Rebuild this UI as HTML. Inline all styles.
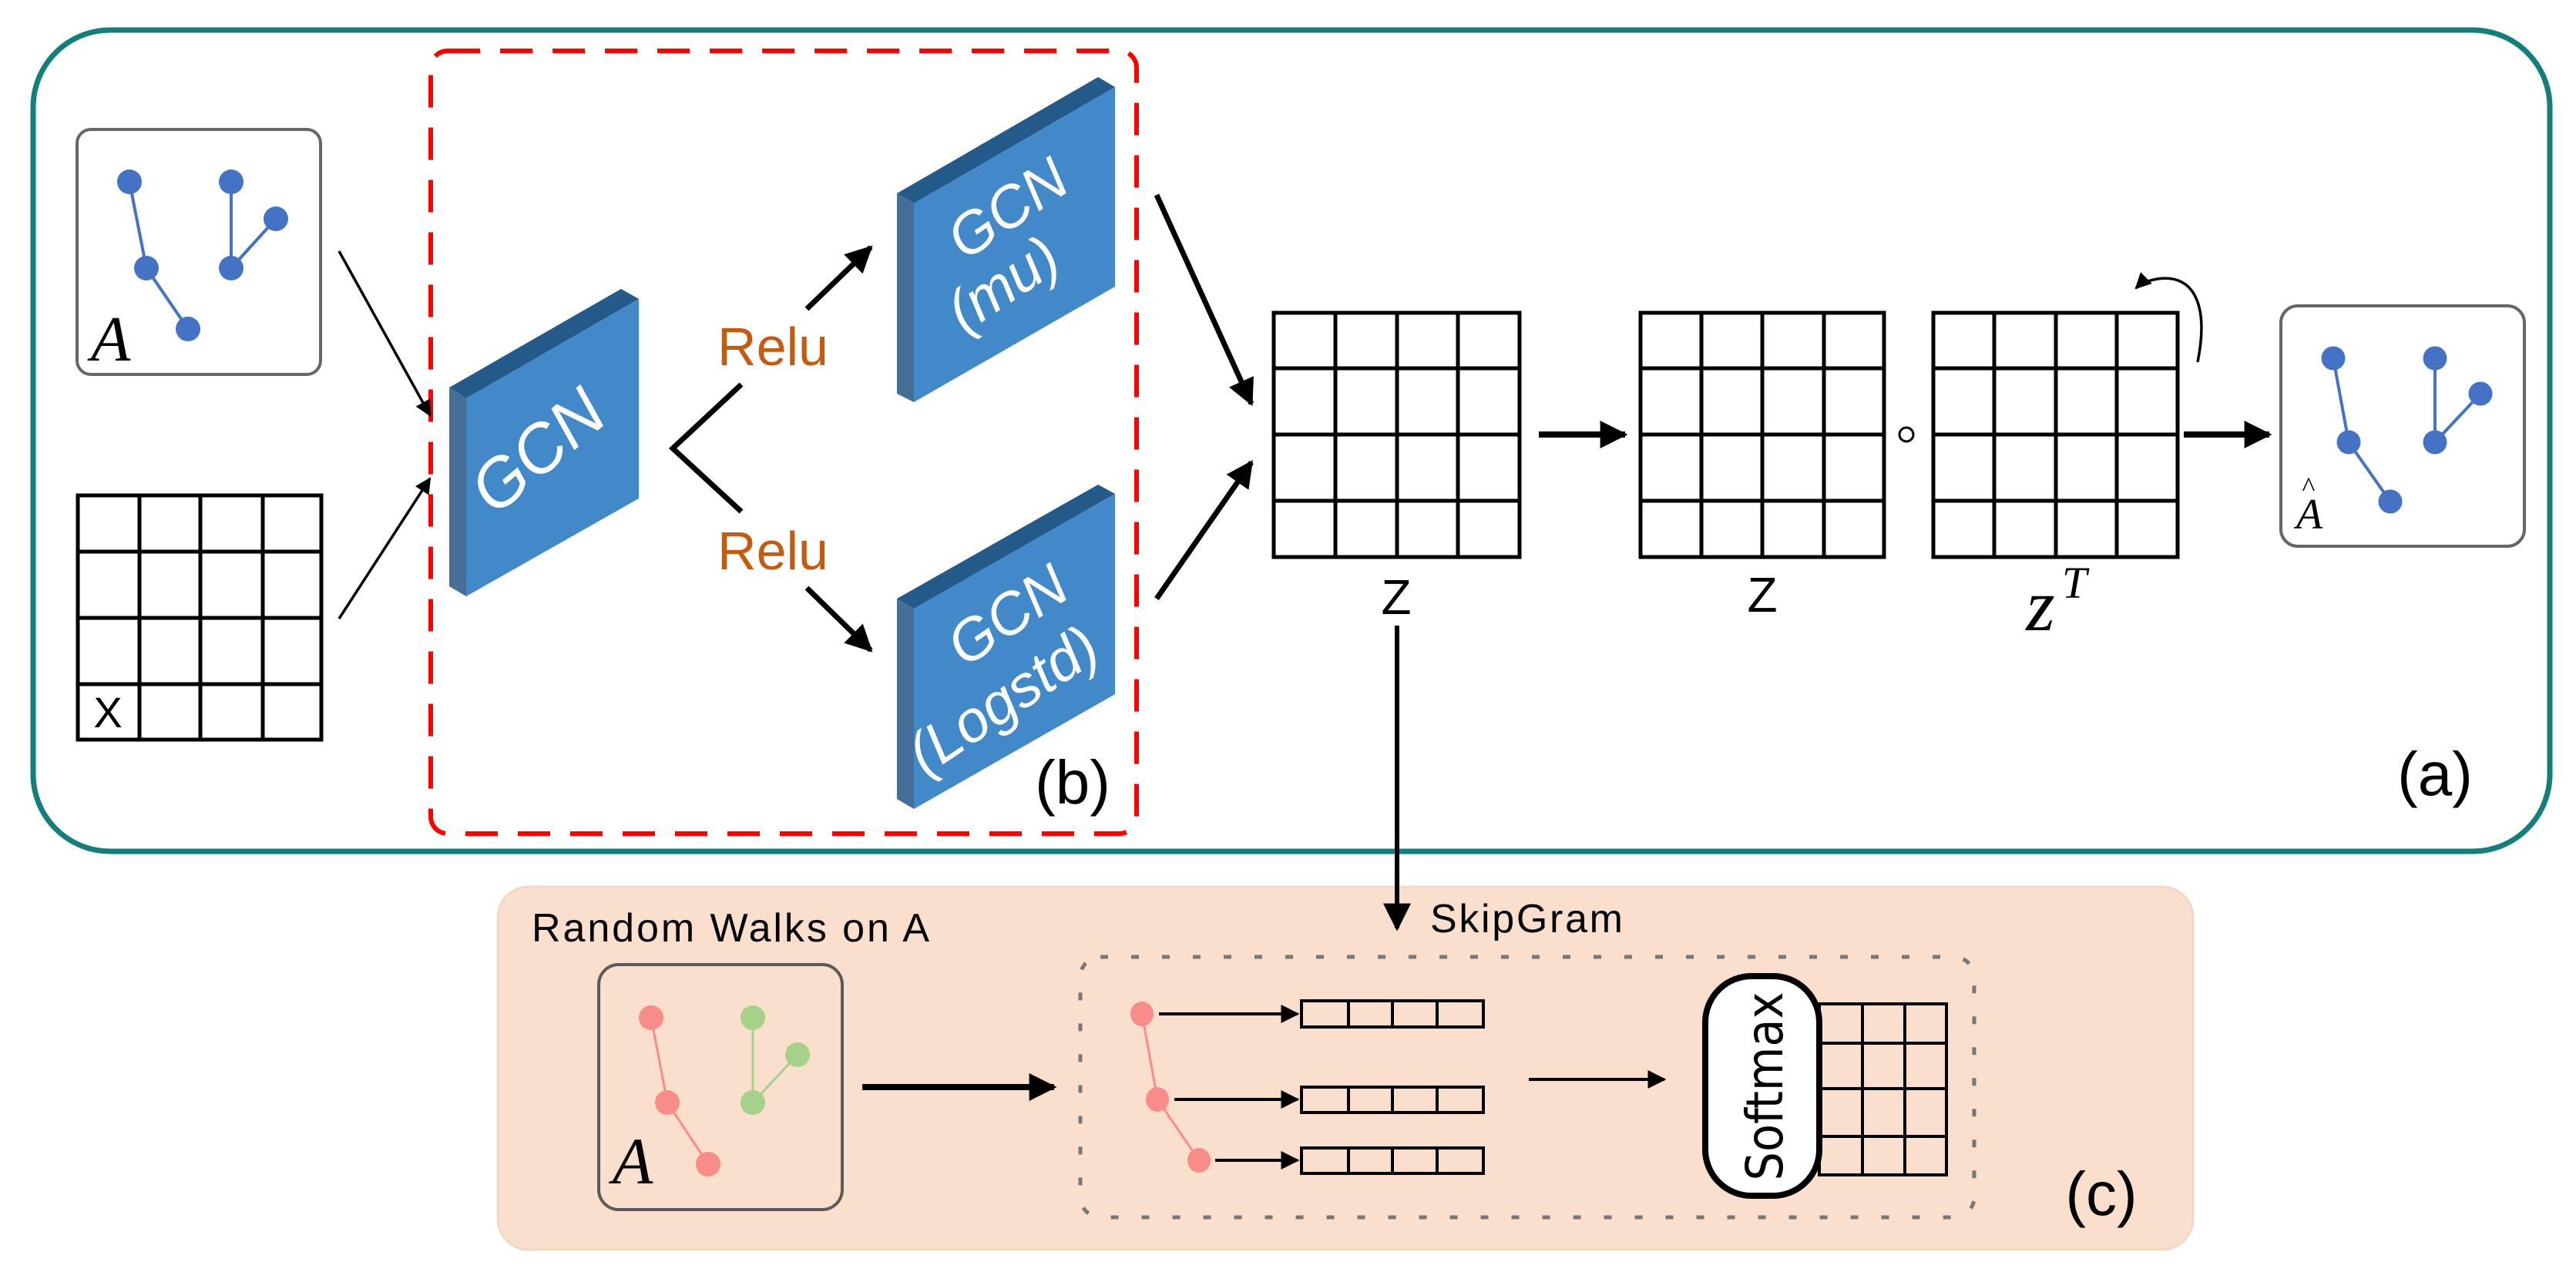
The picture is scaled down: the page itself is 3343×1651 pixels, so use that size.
<!DOCTYPE html>
<html><head><meta charset="utf-8"><style>html,body{margin:0;padding:0;background:#fff}svg{display:block}</style></head>
<body>
<svg width="3343" height="1651" viewBox="0 0 3343 1651" xmlns="http://www.w3.org/2000/svg">
<defs>
<marker id="ah" viewBox="0 0 10 10" refX="9" refY="5" markerWidth="5" markerHeight="5" orient="auto" markerUnits="strokeWidth"><path d="M0,0 L10,5 L0,10 z" fill="#000"/></marker>
<marker id="ah2" viewBox="0 0 10 10" refX="9" refY="5" markerWidth="4.5" markerHeight="4.5" orient="auto" markerUnits="strokeWidth"><path d="M0,0 L10,5 L0,10 z" fill="#000"/></marker>
<marker id="ahs" viewBox="0 0 10 10" refX="9" refY="5" markerWidth="6" markerHeight="6" orient="auto" markerUnits="strokeWidth"><path d="M0,0 L10,5 L0,10 z" fill="#000"/></marker>
</defs>

<rect x="43" y="39" width="3266" height="1066" rx="100" fill="none" stroke="#127f7c" stroke-width="7"/>
<rect x="559" y="66" width="916" height="1016" rx="22" fill="none" stroke="#ff0000" stroke-width="6" stroke-dasharray="42,26"/>

<rect x="100" y="168" width="316" height="318" rx="18" fill="#fff" stroke="#666" stroke-width="4"/>
<g stroke="#4472c4" stroke-width="4">
<line x1="168" y1="236" x2="190" y2="348"/><line x1="190" y1="348" x2="244" y2="427"/>
<line x1="300" y1="236" x2="300" y2="348"/><line x1="300" y1="348" x2="358" y2="284"/>
</g>
<g fill="#4472c4">
<circle cx="168" cy="236" r="16"/><circle cx="190" cy="348" r="16"/><circle cx="244" cy="427" r="16"/>
<circle cx="300" cy="236" r="16"/><circle cx="300" cy="348" r="16"/><circle cx="358" cy="284" r="16"/>
</g>
<text x="118" y="468" font-family="Liberation Serif, serif" font-style="italic" font-size="84">A</text>

<g fill="none" stroke="#000" stroke-width="5">
<rect x="101" y="643" width="316" height="317"/>
<line x1="181" y1="643" x2="181" y2="960"/><line x1="260" y1="643" x2="260" y2="960"/><line x1="341" y1="643" x2="341" y2="960"/>
<line x1="101" y1="716" x2="417" y2="716"/><line x1="101" y1="802" x2="417" y2="802"/><line x1="101" y1="888" x2="417" y2="888"/>
</g>
<text x="140" y="944" text-anchor="middle" font-family="Liberation Sans, sans-serif" font-size="56">X</text>

<line x1="440" y1="326" x2="558" y2="539" stroke="#000" stroke-width="3.5" marker-end="url(#ahs)"/>
<line x1="440" y1="803" x2="558" y2="621" stroke="#000" stroke-width="3.5" marker-end="url(#ahs)"/>

<polygon points="583,503 806,375 829,388 605,517" fill="#245a8a"/>
<polygon points="583,503 605,517 605,774 583,761" fill="#466f97"/>
<polygon points="605,517 829,388 829,647 605,774" fill="#4189c9"/>
<text transform="translate(717,608) rotate(-40)" text-anchor="middle" fill="#fff" font-family="Liberation Sans, sans-serif" font-style="italic" font-size="88">GCN</text>

<polygon points="1164,251 1425,100 1447,113 1186,264" fill="#245a8a"/>
<polygon points="1164,251 1186,264 1186,522 1164,511" fill="#466f97"/>
<polygon points="1186,264 1447,113 1447,372 1186,522" fill="#4189c9"/>
<text transform="translate(1322,292) rotate(-34)" text-anchor="middle" fill="#fff" font-family="Liberation Sans, sans-serif" font-style="italic" font-size="76">GCN</text>
<text transform="translate(1316,390) rotate(-34)" text-anchor="middle" fill="#fff" font-family="Liberation Sans, sans-serif" font-style="italic" font-size="76">(mu)</text>

<polygon points="1164,777 1425,629 1447,641 1186,790" fill="#245a8a"/>
<polygon points="1164,777 1186,790 1186,1050 1164,1037" fill="#466f97"/>
<polygon points="1186,790 1447,641 1447,901 1186,1050" fill="#4189c9"/>
<text transform="translate(1322,820) rotate(-34)" text-anchor="middle" fill="#fff" font-family="Liberation Sans, sans-serif" font-style="italic" font-size="76">GCN</text>
<text transform="translate(1316,930) rotate(-34)" text-anchor="middle" fill="#fff" font-family="Liberation Sans, sans-serif" font-style="italic" font-size="76">(Logstd)</text>

<polyline points="962,499 873,582 962,664" fill="none" stroke="#000" stroke-width="7"/>
<text x="1003" y="474" text-anchor="middle" fill="#c55a11" font-family="Liberation Sans, sans-serif" font-size="70">Relu</text>
<text x="1003" y="739" text-anchor="middle" fill="#c55a11" font-family="Liberation Sans, sans-serif" font-size="70">Relu</text>
<line x1="1047" y1="401" x2="1130" y2="321" stroke="#000" stroke-width="7" marker-end="url(#ah)"/>
<line x1="1047" y1="763" x2="1130" y2="844" stroke="#000" stroke-width="7" marker-end="url(#ah)"/>
<text x="1392" y="1043" text-anchor="middle" font-family="Liberation Sans, sans-serif" font-size="80">(b)</text>

<line x1="1501" y1="253" x2="1624" y2="524" stroke="#000" stroke-width="7" marker-end="url(#ah)"/>
<line x1="1501" y1="777" x2="1624" y2="600" stroke="#000" stroke-width="7" marker-end="url(#ah)"/>

<g fill="none" stroke="#000" stroke-width="5">
<rect x="1653" y="406" width="319" height="317"/>
<line x1="1733" y1="406" x2="1733" y2="723"/><line x1="1813" y1="406" x2="1813" y2="723"/><line x1="1892" y1="406" x2="1892" y2="723"/>
<line x1="1653" y1="478" x2="1972" y2="478"/><line x1="1653" y1="564" x2="1972" y2="564"/><line x1="1653" y1="650" x2="1972" y2="650"/>
<rect x="2129" y="406" width="316" height="317"/>
<line x1="2208" y1="406" x2="2208" y2="723"/><line x1="2287" y1="406" x2="2287" y2="723"/><line x1="2367" y1="406" x2="2367" y2="723"/>
<line x1="2129" y1="478" x2="2445" y2="478"/><line x1="2129" y1="564" x2="2445" y2="564"/><line x1="2129" y1="650" x2="2445" y2="650"/>
<rect x="2509" y="406" width="317" height="317"/>
<line x1="2588" y1="406" x2="2588" y2="723"/><line x1="2668" y1="406" x2="2668" y2="723"/><line x1="2747" y1="406" x2="2747" y2="723"/>
<line x1="2509" y1="478" x2="2826" y2="478"/><line x1="2509" y1="564" x2="2826" y2="564"/><line x1="2509" y1="650" x2="2826" y2="650"/>
</g>
<text x="1812" y="797" text-anchor="middle" font-family="Liberation Sans, sans-serif" font-size="64">Z</text>
<text x="2287" y="794" text-anchor="middle" font-family="Liberation Sans, sans-serif" font-size="64">Z</text>
<text x="2648" y="818" text-anchor="middle" font-family="Liberation Serif, serif" font-style="italic" font-size="96">z</text>
<text x="2692" y="776" text-anchor="middle" font-family="Liberation Serif, serif" font-style="italic" font-size="58">T</text>
<circle cx="2474" cy="564" r="9" fill="none" stroke="#000" stroke-width="3"/>

<line x1="1997" y1="564" x2="2109" y2="564" stroke="#000" stroke-width="8" marker-end="url(#ah2)"/>
<line x1="2834" y1="564" x2="2945" y2="564" stroke="#000" stroke-width="8" marker-end="url(#ah2)"/>

<path d="M2852,470 C2866,400 2850,355 2800,362 C2788,364 2778,368 2772,374" fill="none" stroke="#000" stroke-width="3.5" marker-end="url(#ahs)"/>

<rect x="2960" y="397" width="316" height="312" rx="22" fill="#fff" stroke="#666" stroke-width="4"/>
<g stroke="#4472c4" stroke-width="4">
<line x1="3028" y1="465" x2="3048" y2="574"/><line x1="3048" y1="574" x2="3102" y2="651"/>
<line x1="3160" y1="465" x2="3160" y2="574"/><line x1="3160" y1="574" x2="3219" y2="511"/>
</g>
<g fill="#4472c4">
<circle cx="3028" cy="465" r="15.5"/><circle cx="3048" cy="574" r="15.5"/><circle cx="3102" cy="651" r="15.5"/>
<circle cx="3160" cy="465" r="15.5"/><circle cx="3160" cy="574" r="15.5"/><circle cx="3219" cy="511" r="15.5"/>
</g>
<text x="2997" y="686" text-anchor="middle" font-family="Liberation Serif, serif" font-style="italic" font-size="56">A</text>
<text x="2996" y="644" text-anchor="middle" font-family="Liberation Serif, serif" font-size="36">^</text>

<text x="3160" y="1032" text-anchor="middle" font-family="Liberation Sans, sans-serif" font-size="80">(a)</text>

<rect x="646" y="1151" width="2200" height="471" rx="40" fill="#f9dfcc" stroke="#f0d8c8" stroke-width="3"/>
<line x1="1813" y1="812" x2="1813" y2="1205" stroke="#000" stroke-width="6" marker-end="url(#ahs)"/>
<text x="690" y="1222" textLength="516" font-family="Liberation Sans, sans-serif" font-size="52">Random Walks on A</text>
<text x="1856" y="1210" textLength="250" font-family="Liberation Sans, sans-serif" font-size="52">SkipGram</text>

<rect x="777" y="1252" width="316" height="318" rx="26" fill="none" stroke="#5a5a5a" stroke-width="4"/>
<g stroke-width="3">
<line x1="845" y1="1321" x2="866" y2="1431" stroke="#f88c88"/><line x1="866" y1="1431" x2="919" y2="1511" stroke="#f88c88"/>
<line x1="977" y1="1321" x2="977" y2="1431" stroke="#a5d18a"/><line x1="977" y1="1431" x2="1035" y2="1369" stroke="#a5d18a"/>
</g>
<g fill="#f88c88"><circle cx="845" cy="1321" r="16"/><circle cx="866" cy="1431" r="16"/><circle cx="919" cy="1511" r="16"/></g>
<g fill="#a5d18a"><circle cx="977" cy="1321" r="16"/><circle cx="977" cy="1431" r="16"/><circle cx="1035" cy="1369" r="16"/></g>
<text x="821" y="1536" text-anchor="middle" font-family="Liberation Serif, serif" font-style="italic" font-size="86">A</text>

<line x1="1119" y1="1411" x2="1368" y2="1411" stroke="#000" stroke-width="8" marker-end="url(#ah2)"/>

<rect x="1402" y="1242" width="1160" height="338" rx="26" fill="none" stroke="#777" stroke-width="5" stroke-dasharray="10,30"/>

<g stroke="#f88c88" stroke-width="3"><line x1="1482" y1="1316" x2="1502" y2="1427"/><line x1="1502" y1="1427" x2="1556" y2="1506"/></g>
<g fill="#f88c88"><ellipse cx="1482" cy="1316" rx="15" ry="16"/><ellipse cx="1502" cy="1427" rx="15" ry="16"/><ellipse cx="1556" cy="1506" rx="15" ry="16"/></g>
<g stroke="#000" stroke-width="4">
<line x1="1504" y1="1316" x2="1684" y2="1316" marker-end="url(#ahs)"/>
<line x1="1524" y1="1427" x2="1684" y2="1427" marker-end="url(#ahs)"/>
<line x1="1577" y1="1506" x2="1684" y2="1506" marker-end="url(#ahs)"/>
<line x1="1984" y1="1401" x2="2160" y2="1401" marker-end="url(#ahs)"/>
</g>
<g fill="none" stroke="#000" stroke-width="4">
<rect x="1689" y="1299" width="236" height="34"/><line x1="1750" y1="1299" x2="1750" y2="1333"/><line x1="1807" y1="1299" x2="1807" y2="1333"/><line x1="1865" y1="1299" x2="1865" y2="1333"/>
<rect x="1689" y="1411" width="236" height="33"/><line x1="1750" y1="1411" x2="1750" y2="1444"/><line x1="1807" y1="1411" x2="1807" y2="1444"/><line x1="1865" y1="1411" x2="1865" y2="1444"/>
<rect x="1689" y="1490" width="236" height="33"/><line x1="1750" y1="1490" x2="1750" y2="1523"/><line x1="1807" y1="1490" x2="1807" y2="1523"/><line x1="1865" y1="1490" x2="1865" y2="1523"/>
<rect x="2361" y="1303" width="165" height="222"/>
<line x1="2417" y1="1303" x2="2417" y2="1525"/><line x1="2472" y1="1303" x2="2472" y2="1525"/>
<line x1="2361" y1="1354" x2="2526" y2="1354"/><line x1="2361" y1="1413" x2="2526" y2="1413"/><line x1="2361" y1="1475" x2="2526" y2="1475"/>
</g>
<rect x="2213" y="1267" width="148" height="285" rx="60" fill="#fff" stroke="#000" stroke-width="8"/>
<text transform="translate(2313,1410) rotate(-90)" text-anchor="middle" textLength="245" lengthAdjust="spacingAndGlyphs" font-family="DejaVu Sans, sans-serif" font-size="66">Softmax</text>

<text x="2727" y="1577" text-anchor="middle" font-family="Liberation Sans, sans-serif" font-size="80">(c)</text>
</svg>
</body></html>
